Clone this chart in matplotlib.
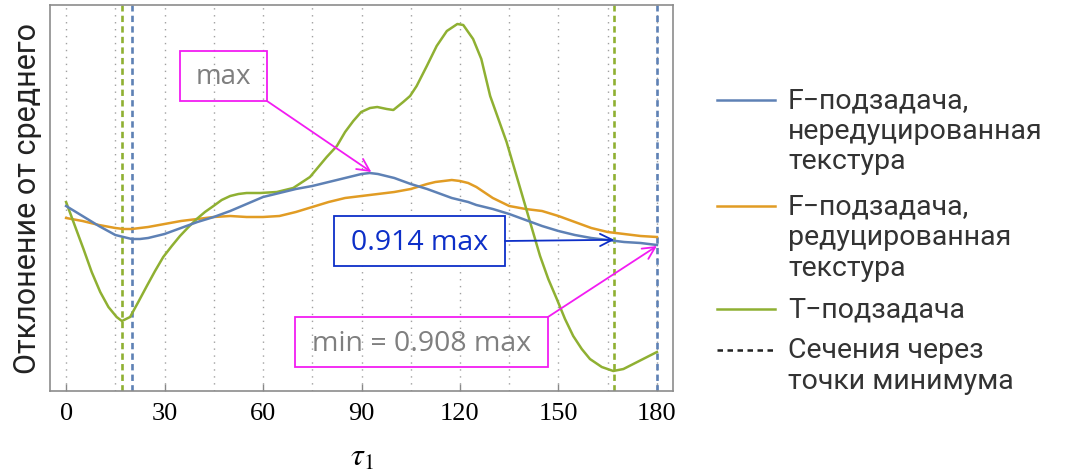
import numpy as np
import matplotlib
matplotlib.use("Agg")
import matplotlib.pyplot as plt
from matplotlib.patches import Rectangle
from matplotlib.lines import Line2D

plt.rcParams["mathtext.fontset"] = "stix"

# ──────────────────────────────────────────────
# Данные (условные единицы)
# ──────────────────────────────────────────────
tau_f = [0, 5, 10, 15, 17.5, 20, 22.5, 25, 30, 35, 40, 45, 50, 55, 60, 65, 70,
         75, 80, 85, 87.5, 90, 92.5, 95, 97.5, 100, 105, 110, 112.5, 115, 117.5,
         120, 122.5, 125, 130, 135, 140, 145, 150, 155, 160, 165, 170, 175, 180]

f_nered = [185, 175, 165, 156, 154, 152, 152, 153, 157, 163, 169, 174, 180, 187,
           194, 198, 202, 205, 209, 213, 215, 217, 218, 217, 215, 213, 207, 202,
           199, 196, 193, 191, 189, 186, 182, 177, 171, 165, 160, 156, 153, 151,
           149, 148, 146]

f_red = [173, 170, 166, 163, 162, 162, 163, 164, 167, 170, 172, 174, 175, 174,
         174, 175, 179, 184, 189, 193, 194, 195, 196, 197, 198, 199, 202, 207,
         209, 210, 211, 210, 208, 204, 193, 185, 182, 180, 175, 169, 163, 159,
         157, 155, 154]

tau_t = [0, 2.7, 5.3, 7.8, 10.4, 12.9, 15.4, 17, 19.5, 22, 24.6, 27.1, 29.6,
         32.2, 34.7, 37.3, 39.8, 42.3, 44.9, 47.4, 50, 52.5, 55, 59.1, 64.2,
         69.2, 74.3, 79.4, 82.5, 85, 87.5, 89.9, 92.6, 94.8, 97.7, 99.7, 102.7,
         104.8, 106.8, 109.9, 112.9, 116, 119.2, 121, 124, 126.5, 129.2, 131.7,
         134.2, 136.8, 139.3, 141.8, 144.4, 146.9, 149.5, 152, 154.5, 157.1,
         159.6, 163.2, 166.7, 169.8, 172.8, 176.4, 180]
t_zad = [189, 165, 142, 119, 99, 84, 74, 70, 74, 89, 105, 120, 134, 145, 155,
         164, 172, 179, 185, 191, 195, 197, 198, 198, 199, 203, 214, 234, 245,
         259, 270, 279, 283, 284, 282, 281, 289, 295, 305, 325, 345, 360, 367,
         366, 352, 332, 295, 272, 249, 220, 192, 164, 135, 112, 92, 72, 55, 42,
         32, 24, 20, 22, 27, 33, 39]

# точки минимума (сечения)
min_t = [17, 167]
min_f = [20, 180]

xticks = [0, 30, 60, 90, 120, 150, 180]
grid_x = list(range(0, 181, 15))

C_BLUE = "#5E81B5"
C_ORANGE = "#E19C24"
C_GREEN = "#8FB032"
MAGENTA = "#F21CF2"
BLUE_TXT = "#0D2FC8"
GRAY_TXT = "#7F7F7F"

fig = plt.figure(figsize=(10.79, 4.77), dpi=100)
ax = fig.add_axes([50 / 1079, 85 / 477, 623 / 1079, 386 / 477])

for gx in grid_x:
    ax.axvline(gx, color="#A0A0A0", linewidth=1.0, linestyle=(0, (1, 4)), zorder=1)

for x in min_t:
    ax.axvline(x, color=C_GREEN, linewidth=1.9, linestyle=(0, (2.4, 1.6)), zorder=2)
for x in min_f:
    ax.axvline(x, color=C_BLUE, linewidth=1.9, linestyle=(0, (2.4, 1.6)), zorder=2)

ax.plot(tau_f, f_nered, color=C_BLUE, linewidth=1.8, zorder=4)
ax.plot(tau_f, f_red, color=C_ORANGE, linewidth=1.8, zorder=3)
ax.plot(tau_t, t_zad, color=C_GREEN, linewidth=1.8, zorder=3)

ax.set_xlim(-4.9, 184.9)
ax.set_ylim(0, 386)
ax.set_xticks(xticks)
ax.set_xticklabels([str(t) for t in xticks], family="Liberation Serif", fontsize=19)
ax.set_yticks([])
ax.tick_params(axis="x", direction="in", length=5, width=1, color="#888888", pad=8)
for s in ax.spines.values():
    s.set_color("#8C8C8C")
    s.set_linewidth(1.2)

ax.set_xlabel(r"$\tau_1$", fontsize=23, labelpad=12)
ax.set_ylabel("Отклонение от среднего", family="Roboto", fontsize=22,
              color="#222222", labelpad=6)

# ── Аннотации ──
i_max = int(np.argmax(f_nered))
max_pt = (tau_f[i_max] + 0.5, f_nered[i_max] + 1)
pt_0914 = (min_t[1], np.interp(min_t[1], tau_f, f_nered) + 1)
pt_min = (min_f[1], f_nered[-1] - 1)

arrow_kw = dict(arrowstyle="->", mutation_scale=22, shrinkA=0, shrinkB=0)

ax.add_patch(Rectangle((34.7, 290), 26.5, 50, fill=False, edgecolor=MAGENTA,
                       linewidth=1.3, zorder=6))
ax.text(47.9, 315, "max", ha="center", va="center", family="Open Sans",
        fontsize=20, color=GRAY_TXT, zorder=6)
ax.annotate("", xy=max_pt, xytext=(61.2, 290),
            arrowprops=dict(color=MAGENTA, lw=1.3, **arrow_kw), zorder=6)

ax.add_patch(Rectangle((81.6, 125), 52.1, 50, facecolor="white", edgecolor=BLUE_TXT,
                       linewidth=1.3, zorder=6))
ax.text(107.7, 149, "0.914 max", ha="center", va="center", family="Open Sans",
        fontsize=20.5, color=BLUE_TXT, zorder=7)
ax.annotate("", xy=pt_0914, xytext=(133.7, 150),
            arrowprops=dict(color=BLUE_TXT, lw=1.3, **arrow_kw), zorder=6)

ax.add_patch(Rectangle((69.8, 24), 77, 50, fill=False, edgecolor=MAGENTA,
                       linewidth=1.3, zorder=6))
ax.text(108.3, 48, "min = 0.908 max", ha="center", va="center", family="Open Sans",
        fontsize=20.5, color=GRAY_TXT, zorder=7)
ax.annotate("", xy=pt_min, xytext=(146.8, 74),
            arrowprops=dict(color=MAGENTA, lw=1.3, **arrow_kw), zorder=6)

# ── Легенда (вручную, линия у первой строки) ──
W, H = 1079, 477
legend_items = [
    (C_BLUE, "-", ["F\u2212подзадача,", "нередуцированная", "текстура"], 101),
    (C_ORANGE, "-", ["F\u2212подзадача,", "редуцированная", "текстура"], 207),
    (C_GREEN, "-", ["T\u2212подзадача"], 310),
    ("#222222", (0, (2.2, 1.8)), ["Сечения через", "точки минимума"], 351),
]
row = 30.5
for color, ls, lines, y0 in legend_items:
    fig.add_artist(Line2D([717 / W, 775 / W], [1 - y0 / H, 1 - y0 / H],
                          color=color, linewidth=1.8, linestyle=ls))
    for k, txt in enumerate(lines):
        fig.text(788 / W, 1 - (y0 + k * row) / H, txt, ha="left", va="center",
                 family="Roboto", fontsize=20.5, color="#333333")

plt.savefig("out.png", dpi=100)
